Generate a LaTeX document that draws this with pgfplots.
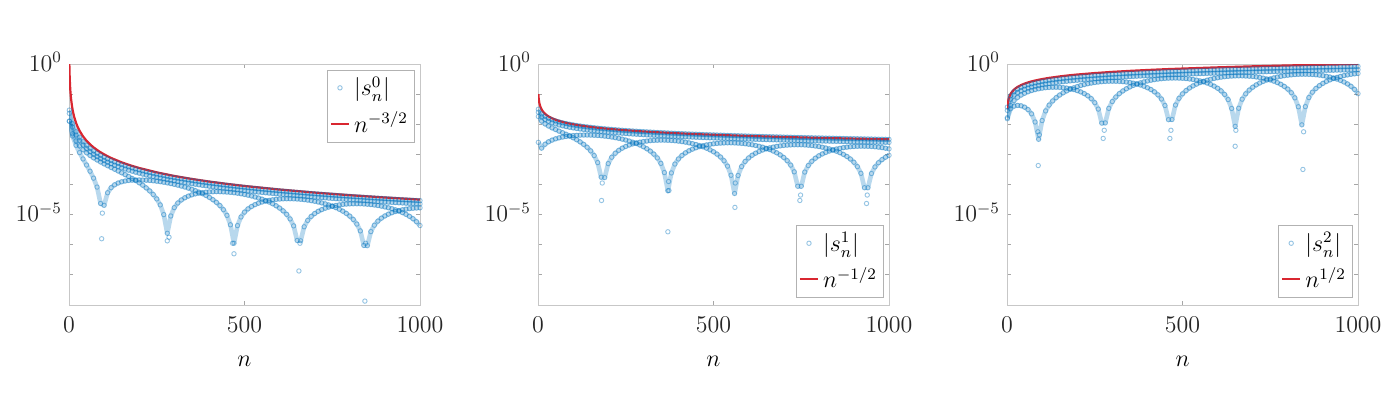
\documentclass[border=0pt]{standalone}
\usepackage{pgfplots}
\pgfplotsset{compat=1.18}
\usepackage{pgfplotstable}
\definecolor{mblue}{RGB}{0,114,189}
\definecolor{mred}{RGB}{217,38,48}

\pgfplotstableread{
n b1 b2 fa fb
1 -1.530 -1.640 -1.898 -1.898
10 -1.982 -2.092 -2.389 -2.317
20 -2.246 -2.356 -2.699 -2.554
30 -2.433 -2.543 -2.941 -2.718
40 -2.578 -2.688 -3.152 -2.843
50 -2.697 -2.807 -3.353 -2.947
60 -2.798 -2.908 -3.559 -3.036
70 -2.885 -2.995 -3.789 -3.115
80 -2.961 -3.071 -4.085 -3.185
90 -3.030 -3.140 -4.630 -3.252
100 -3.092 -3.202 -4.692 -3.315
110 -3.149 -3.259 -4.273 -3.376
120 -3.201 -3.311 -4.105 -3.435
130 -3.249 -3.359 -4.010 -3.493
140 -3.294 -3.404 -3.950 -3.551
150 -3.336 -3.446 -3.910 -3.611
160 -3.376 -3.486 -3.884 -3.672
170 -3.413 -3.523 -3.866 -3.734
180 -3.448 -3.558 -3.855 -3.799
190 -3.482 -3.592 -3.850 -3.869
200 -3.513 -3.623 -3.848 -3.942
210 -3.544 -3.654 -3.852 -4.023
220 -3.573 -3.683 -3.858 -4.112
230 -3.600 -3.710 -3.865 -4.213
240 -3.627 -3.737 -3.877 -4.332
250 -3.652 -3.762 -3.890 -4.478
260 -3.677 -3.787 -3.907 -4.677
270 -3.701 -3.811 -3.925 -5.000
280 -3.724 -3.834 -3.946 -5.620
290 -3.746 -3.856 -3.969 -5.045
300 -3.767 -3.877 -3.994 -4.767
310 -3.788 -3.898 -4.022 -4.614
320 -3.808 -3.918 -4.052 -4.513
330 -3.827 -3.937 -4.084 -4.440
340 -3.846 -3.956 -4.121 -4.385
350 -3.864 -3.974 -4.160 -4.343
360 -3.882 -3.992 -4.203 -4.311
370 -3.900 -4.010 -4.251 -4.287
380 -3.917 -4.027 -4.304 -4.268
390 -3.933 -4.043 -4.362 -4.254
400 -3.949 -4.059 -4.428 -4.245
410 -3.965 -4.075 -4.504 -4.240
420 -3.980 -4.090 -4.593 -4.237
430 -3.995 -4.105 -4.700 -4.239
440 -4.010 -4.120 -4.836 -4.244
450 -4.024 -4.134 -5.024 -4.251
460 -4.038 -4.148 -5.337 -4.261
470 -4.052 -4.162 -5.950 -4.274
480 -4.065 -4.175 -5.364 -4.289
490 -4.078 -4.188 -5.078 -4.308
500 -4.091 -4.201 -4.917 -4.329
510 -4.104 -4.214 -4.809 -4.354
520 -4.116 -4.226 -4.729 -4.381
530 -4.129 -4.239 -4.668 -4.414
540 -4.141 -4.251 -4.620 -4.449
550 -4.152 -4.262 -4.581 -4.487
560 -4.164 -4.274 -4.551 -4.532
570 -4.175 -4.285 -4.526 -4.582
580 -4.186 -4.296 -4.507 -4.639
590 -4.197 -4.307 -4.493 -4.705
600 -4.208 -4.318 -4.483 -4.782
610 -4.219 -4.329 -4.476 -4.875
620 -4.229 -4.339 -4.473 -4.990
630 -4.239 -4.349 -4.473 -5.143
640 -4.249 -4.359 -4.476 -5.373
650 -4.259 -4.369 -4.482 -5.859
660 -4.269 -4.379 -4.491 -5.869
670 -4.279 -4.389 -4.503 -5.403
680 -4.288 -4.398 -4.518 -5.192
690 -4.298 -4.408 -4.536 -5.059
700 -4.307 -4.417 -4.557 -4.963
710 -4.316 -4.426 -4.581 -4.890
720 -4.325 -4.435 -4.610 -4.833
730 -4.334 -4.444 -4.642 -4.787
740 -4.343 -4.453 -4.678 -4.750
750 -4.351 -4.461 -4.719 -4.719
760 -4.360 -4.470 -4.767 -4.695
770 -4.368 -4.478 -4.821 -4.676
780 -4.376 -4.486 -4.884 -4.661
790 -4.385 -4.495 -4.959 -4.650
800 -4.393 -4.503 -5.049 -4.643
810 -4.401 -4.511 -5.162 -4.639
820 -4.409 -4.519 -5.313 -4.639
830 -4.416 -4.526 -5.540 -4.640
840 -4.424 -4.534 -6.024 -4.646
850 -4.432 -4.542 -6.032 -4.655
860 -4.439 -4.549 -5.563 -4.666
870 -4.447 -4.557 -5.351 -4.681
880 -4.454 -4.564 -5.215 -4.698
890 -4.461 -4.571 -5.117 -4.718
900 -4.469 -4.579 -5.043 -4.744
910 -4.476 -4.586 -4.984 -4.772
920 -4.483 -4.593 -4.936 -4.804
930 -4.490 -4.600 -4.897 -4.841
940 -4.497 -4.607 -4.865 -4.884
950 -4.503 -4.613 -4.838 -4.932
960 -4.510 -4.620 -4.818 -4.989
970 -4.517 -4.627 -4.802 -5.056
980 -4.523 -4.633 -4.788 -5.136
990 -4.530 -4.640 -4.780 -5.235
1000 -4.536 -4.646 -4.774 -5.362
}\tA

\pgfplotstableread{
n b1 b2 fa fb
1 -1.500 -1.600 -1.742 -2.600
10 -1.651 -1.751 -1.895 -2.795
20 -1.739 -1.839 -1.989 -2.663
30 -1.801 -1.901 -2.059 -2.582
40 -1.850 -1.950 -2.120 -2.526
50 -1.889 -1.989 -2.174 -2.483
60 -1.923 -2.023 -2.228 -2.451
70 -1.952 -2.052 -2.280 -2.425
80 -1.977 -2.077 -2.332 -2.404
90 -2.000 -2.100 -2.388 -2.388
100 -2.021 -2.121 -2.448 -2.376
110 -2.040 -2.140 -2.513 -2.368
120 -2.057 -2.157 -2.585 -2.362
130 -2.073 -2.173 -2.667 -2.358
140 -2.088 -2.188 -2.764 -2.358
150 -2.102 -2.202 -2.883 -2.360
160 -2.115 -2.215 -3.039 -2.365
170 -2.128 -2.228 -3.272 -2.372
180 -2.139 -2.239 -3.759 -2.381
190 -2.151 -2.251 -3.771 -2.394
200 -2.161 -2.261 -3.305 -2.408
210 -2.171 -2.271 -3.095 -2.425
220 -2.181 -2.281 -2.962 -2.445
230 -2.190 -2.290 -2.866 -2.467
240 -2.199 -2.299 -2.793 -2.494
250 -2.208 -2.308 -2.736 -2.524
260 -2.216 -2.316 -2.689 -2.557
270 -2.224 -2.324 -2.651 -2.595
280 -2.231 -2.331 -2.619 -2.638
290 -2.239 -2.339 -2.594 -2.688
300 -2.246 -2.346 -2.574 -2.745
310 -2.253 -2.353 -2.558 -2.812
320 -2.259 -2.359 -2.544 -2.892
330 -2.266 -2.366 -2.536 -2.991
340 -2.272 -2.372 -2.530 -3.118
350 -2.278 -2.378 -2.528 -3.298
360 -2.284 -2.384 -2.528 -3.603
370 -2.290 -2.390 -2.532 -4.210
380 -2.296 -2.396 -2.539 -3.615
390 -2.301 -2.401 -2.548 -3.321
400 -2.306 -2.406 -2.560 -3.152
410 -2.312 -2.412 -2.576 -3.037
420 -2.317 -2.417 -2.594 -2.950
430 -2.322 -2.422 -2.617 -2.881
440 -2.327 -2.427 -2.643 -2.826
450 -2.331 -2.431 -2.672 -2.780
460 -2.336 -2.436 -2.707 -2.743
470 -2.341 -2.441 -2.748 -2.712
480 -2.345 -2.445 -2.794 -2.686
490 -2.350 -2.450 -2.849 -2.666
500 -2.354 -2.454 -2.913 -2.649
510 -2.358 -2.458 -2.991 -2.635
520 -2.362 -2.462 -3.087 -2.626
530 -2.366 -2.466 -3.212 -2.620
540 -2.370 -2.470 -3.390 -2.617
550 -2.374 -2.474 -3.693 -2.617
560 -2.378 -2.478 -4.300 -2.620
570 -2.382 -2.482 -3.701 -2.626
580 -2.385 -2.485 -3.405 -2.635
590 -2.389 -2.489 -3.235 -2.647
600 -2.393 -2.493 -3.118 -2.663
610 -2.396 -2.496 -3.029 -2.681
620 -2.400 -2.500 -2.959 -2.705
630 -2.403 -2.503 -2.902 -2.731
640 -2.406 -2.506 -2.855 -2.761
650 -2.410 -2.510 -2.817 -2.798
660 -2.413 -2.513 -2.784 -2.840
670 -2.416 -2.516 -2.757 -2.889
680 -2.419 -2.519 -2.735 -2.947
690 -2.423 -2.523 -2.718 -3.017
700 -2.426 -2.526 -2.703 -3.102
710 -2.429 -2.529 -2.693 -3.210
720 -2.432 -2.532 -2.686 -3.356
730 -2.435 -2.535 -2.682 -3.579
740 -2.438 -2.538 -2.681 -4.058
750 -2.440 -2.540 -2.682 -4.060
760 -2.443 -2.543 -2.687 -3.587
770 -2.446 -2.546 -2.696 -3.370
780 -2.449 -2.549 -2.707 -3.230
790 -2.452 -2.552 -2.722 -3.128
800 -2.454 -2.554 -2.739 -3.048
810 -2.457 -2.557 -2.762 -2.985
820 -2.460 -2.560 -2.788 -2.933
830 -2.462 -2.562 -2.817 -2.889
840 -2.465 -2.565 -2.853 -2.853
850 -2.467 -2.567 -2.894 -2.822
860 -2.470 -2.570 -2.943 -2.798
870 -2.472 -2.572 -3.000 -2.777
880 -2.475 -2.575 -3.069 -2.760
890 -2.477 -2.577 -3.153 -2.747
900 -2.480 -2.580 -3.261 -2.738
910 -2.482 -2.582 -3.406 -2.732
920 -2.484 -2.584 -3.628 -2.728
930 -2.487 -2.587 -4.107 -2.729
940 -2.489 -2.589 -4.109 -2.732
950 -2.491 -2.591 -3.635 -2.738
960 -2.493 -2.593 -3.417 -2.747
970 -2.496 -2.596 -3.277 -2.760
980 -2.498 -2.598 -3.174 -2.775
990 -2.500 -2.600 -3.094 -2.795
1000 -2.502 -2.602 -3.030 -2.818
}\tB

\pgfplotstableread{
n b1 b2 fa fb
1 -1.430 -1.540 -1.817 -1.781
10 -1.058 -1.168 -1.487 -1.379
20 -0.919 -1.029 -1.398 -1.215
30 -0.834 -0.944 -1.373 -1.109
40 -0.774 -0.884 -1.387 -1.031
50 -0.727 -0.837 -1.432 -0.971
60 -0.687 -0.797 -1.513 -0.921
70 -0.654 -0.764 -1.654 -0.881
80 -0.626 -0.736 -1.925 -0.849
90 -0.601 -0.711 -2.500 -0.823
100 -0.578 -0.688 -1.877 -0.802
110 -0.557 -0.667 -1.557 -0.787
120 -0.538 -0.648 -1.364 -0.776
130 -0.521 -0.631 -1.226 -0.771
140 -0.505 -0.615 -1.118 -0.770
150 -0.491 -0.601 -1.030 -0.776
160 -0.477 -0.587 -0.956 -0.785
170 -0.464 -0.574 -0.893 -0.799
180 -0.451 -0.561 -0.838 -0.819
190 -0.440 -0.550 -0.791 -0.847
200 -0.429 -0.539 -0.750 -0.882
210 -0.418 -0.528 -0.714 -0.926
220 -0.408 -0.518 -0.683 -0.982
230 -0.398 -0.508 -0.655 -1.054
240 -0.389 -0.499 -0.633 -1.150
250 -0.380 -0.490 -0.614 -1.284
260 -0.372 -0.482 -0.599 -1.496
270 -0.364 -0.474 -0.587 -1.964
280 -0.356 -0.466 -0.578 -1.956
290 -0.348 -0.458 -0.572 -1.472
300 -0.341 -0.451 -0.571 -1.245
310 -0.334 -0.444 -0.572 -1.095
320 -0.327 -0.437 -0.577 -0.983
330 -0.320 -0.430 -0.585 -0.894
340 -0.314 -0.424 -0.599 -0.822
350 -0.308 -0.418 -0.616 -0.761
360 -0.301 -0.411 -0.636 -0.708
370 -0.295 -0.405 -0.663 -0.663
380 -0.290 -0.400 -0.697 -0.625
390 -0.284 -0.394 -0.737 -0.592
400 -0.279 -0.389 -0.787 -0.564
410 -0.273 -0.383 -0.847 -0.538
420 -0.268 -0.378 -0.924 -0.518
430 -0.263 -0.373 -1.024 -0.501
440 -0.258 -0.368 -1.162 -0.488
450 -0.253 -0.363 -1.377 -0.477
460 -0.248 -0.358 -1.848 -0.470
470 -0.244 -0.354 -1.844 -0.467
480 -0.239 -0.349 -1.363 -0.466
490 -0.235 -0.345 -1.139 -0.469
500 -0.230 -0.340 -0.991 -0.474
510 -0.226 -0.336 -0.882 -0.483
520 -0.222 -0.332 -0.796 -0.497
530 -0.218 -0.328 -0.726 -0.514
540 -0.214 -0.324 -0.667 -0.535
550 -0.210 -0.320 -0.617 -0.561
560 -0.206 -0.316 -0.574 -0.593
570 -0.202 -0.312 -0.537 -0.631
580 -0.198 -0.308 -0.506 -0.677
590 -0.195 -0.305 -0.480 -0.734
600 -0.191 -0.301 -0.456 -0.804
610 -0.187 -0.297 -0.437 -0.892
620 -0.184 -0.294 -0.422 -1.010
630 -0.180 -0.290 -0.410 -1.180
640 -0.177 -0.287 -0.401 -1.476
650 -0.173 -0.283 -0.395 -2.070
660 -0.170 -0.280 -0.393 -1.469
670 -0.167 -0.277 -0.394 -1.167
680 -0.164 -0.274 -0.398 -0.990
690 -0.161 -0.271 -0.405 -0.866
700 -0.157 -0.267 -0.414 -0.770
710 -0.154 -0.264 -0.429 -0.693
720 -0.151 -0.261 -0.447 -0.630
730 -0.148 -0.258 -0.469 -0.577
740 -0.145 -0.255 -0.496 -0.532
750 -0.142 -0.252 -0.529 -0.493
760 -0.140 -0.250 -0.569 -0.461
770 -0.137 -0.247 -0.616 -0.433
780 -0.134 -0.244 -0.673 -0.409
790 -0.131 -0.241 -0.744 -0.388
800 -0.128 -0.238 -0.833 -0.372
810 -0.126 -0.236 -0.952 -0.360
820 -0.123 -0.233 -1.123 -0.350
830 -0.120 -0.230 -1.419 -0.343
840 -0.118 -0.228 -2.020 -0.340
850 -0.115 -0.225 -1.414 -0.339
860 -0.113 -0.223 -1.113 -0.343
870 -0.110 -0.220 -0.936 -0.348
880 -0.108 -0.218 -0.813 -0.358
890 -0.105 -0.215 -0.718 -0.370
900 -0.103 -0.213 -0.642 -0.388
910 -0.100 -0.210 -0.579 -0.408
920 -0.098 -0.208 -0.527 -0.433
930 -0.096 -0.206 -0.483 -0.464
940 -0.093 -0.203 -0.444 -0.500
950 -0.091 -0.201 -0.412 -0.544
960 -0.089 -0.199 -0.385 -0.597
970 -0.087 -0.197 -0.362 -0.661
980 -0.084 -0.194 -0.341 -0.740
990 -0.082 -0.192 -0.326 -0.843
1000 -0.080 -0.190 -0.314 -0.984
}\tC

\pgfplotstableread{
n ra rb rc
1 0 -1 -1.5
2 -0.452 -1.151 -1.349
3 -0.716 -1.239 -1.261
4 -0.903 -1.301 -1.199
5 -1.048 -1.349 -1.151
6 -1.167 -1.389 -1.111
8 -1.355 -1.452 -1.048
10 -1.500 -1.500 -1.000
12 -1.619 -1.540 -0.960
15 -1.764 -1.588 -0.912
20 -1.952 -1.651 -0.849
25 -2.097 -1.699 -0.801
30 -2.216 -1.739 -0.761
40 -2.403 -1.801 -0.699
50 -2.549 -1.849 -0.651
60 -2.667 -1.889 -0.611
70 -2.768 -1.923 -0.577
85 -2.894 -1.965 -0.535
100 -3.000 -2.000 -0.500
120 -3.119 -2.040 -0.460
150 -3.264 -2.088 -0.412
175 -3.365 -2.122 -0.378
200 -3.452 -2.151 -0.349
250 -3.597 -2.199 -0.301
300 -3.716 -2.239 -0.261
350 -3.816 -2.272 -0.228
400 -3.903 -2.301 -0.199
450 -3.980 -2.327 -0.173
500 -4.049 -2.349 -0.151
600 -4.167 -2.389 -0.111
700 -4.268 -2.423 -0.077
800 -4.355 -2.452 -0.048
900 -4.431 -2.477 -0.023
1000 -4.500 -2.500 0
}\tR

\pgfplotsset{
 panel/.style={
  scale only axis, width=175.5pt, height=120.5pt,
  xmin=0, xmax=1000, ymin=-8, ymax=0,
  xtick={0,500,1000},
  /pgf/number format/1000 sep={},
  ytick={-5,0}, yticklabels={$10^{-5}$,$10^{0}$},
  minor ytick={-8,-7,-6,-4,-3,-2,-1},
  tick align=inside, tick pos=both,
  major tick length=2.2pt, minor tick length=2.2pt,
  axis line style={black!22},
  every tick/.style={black!35, line width=0.4pt},
  every minor tick/.style={black!35, line width=0.4pt},
  tick label style={font=\large, black!85},
  yticklabel style={yshift=1.2pt},
  xticklabel style={yshift=-2.5pt},
  xlabel={$n$}, xlabel style={font=\large, yshift=-5pt},
  legend cell align=left,
  legend style={draw=black!30, line width=0.4pt, font=\large, inner sep=1.2pt, row sep=2.5pt, fill=white},
  legend image code/.code={\draw[mark repeat=2,mark phase=2,##1] plot coordinates {(0cm,0cm) (0.16cm,0cm) (0.32cm,0cm)};},
 },
 dots/.style={only marks, mark=o, mark size=1.1pt, draw=mblue, draw opacity=0.42, mark options={line width=0.45pt}},
 trail/.style={mblue, opacity=0.28, line width=2.3pt, no markers, line join=round, forget plot},
 redl/.style={mred, line width=1.1pt, no markers},
}

\begin{document}
\begin{tikzpicture}
\useasboundingbox (-34.5pt,-48.5pt) rectangle (663.5pt,152.5pt);

% Panel 1
\begin{axis}[panel, at={(0pt,0pt)},
  legend style={at={(rel axis cs:0.985,0.975)}, anchor=north east}]
\addplot[trail] table[x=n,y=fa]{\tA};
\addplot[trail] table[x=n,y=fb]{\tA};
\addplot[trail] table[x=n,y=b2]{\tA};
\addplot[trail] table[x=n,y=b1]{\tA};
\addplot[dots] table[x=n,y=fa]{\tA};
\addlegendentry{$|s_n^0|$}
\addplot[dots, forget plot] table[x=n,y=fb]{\tA};
\addplot[dots, forget plot] table[x=n,y=b2]{\tA};
\addplot[dots, forget plot] table[x=n,y=b1]{\tA};
\addplot[dots, forget plot] coordinates {(93,-5.8) (95,-4.95) (280,-5.87) (285,-5.75) (466,-5.95) (470,-6.3) (655,-6.87) (658,-5.95) (843,-7.87) (845,-5.95)};
\addplot[redl] table[x=n,y=ra]{\tR};
\addlegendentry{$n^{-3/2}$}
\end{axis}

% Panel 2
\begin{axis}[panel, at={(234.5pt,0pt)},
  legend style={at={(rel axis cs:0.985,0.03)}, anchor=south east}]
\addplot[trail] table[x=n,y=fa]{\tB};
\addplot[trail] table[x=n,y=fb]{\tB};
\addplot[trail] table[x=n,y=b2]{\tB};
\addplot[trail] table[x=n,y=b1]{\tB};
\addplot[dots] table[x=n,y=fa]{\tB};
\addlegendentry{$|s_n^1|$}
\addplot[dots, forget plot] table[x=n,y=fb]{\tB};
\addplot[dots, forget plot] table[x=n,y=b2]{\tB};
\addplot[dots, forget plot] table[x=n,y=b1]{\tB};
\addplot[dots, forget plot] coordinates {(181,-4.53) (183,-3.95) (370,-5.57) (372,-3.9) (373,-4.2) (561,-4.76) (562,-3.95) (746,-4.53) (748,-4.35) (936,-4.63) (938,-4.35)};
\addplot[redl] table[x=n,y=rb]{\tR};
\addlegendentry{$n^{-1/2}$}
\end{axis}

% Panel 3
\begin{axis}[panel, at={(469pt,0pt)},
  legend style={at={(rel axis cs:0.985,0.03)}, anchor=south east}]
\addplot[trail] table[x=n,y=fa]{\tC};
\addplot[trail] table[x=n,y=fb]{\tC};
\addplot[trail] table[x=n,y=b2]{\tC};
\addplot[trail] table[x=n,y=b1]{\tC};
\addplot[dots] table[x=n,y=fa]{\tC};
\addlegendentry{$|s_n^2|$}
\addplot[dots, forget plot] table[x=n,y=fb]{\tC};
\addplot[dots, forget plot] table[x=n,y=b2]{\tC};
\addplot[dots, forget plot] table[x=n,y=b1]{\tC};
\addplot[dots, forget plot] coordinates {(88,-2.25) (89,-3.37) (92,-2.35) (274,-2.47) (277,-2.2) (464,-2.47) (467,-2.2) (650,-2.73) (652,-2.2) (843,-3.5) (845,-2.25)};
\addplot[redl] table[x=n,y=rc]{\tR};
\addlegendentry{$n^{1/2}$}
\end{axis}
\end{tikzpicture}
\end{document}
